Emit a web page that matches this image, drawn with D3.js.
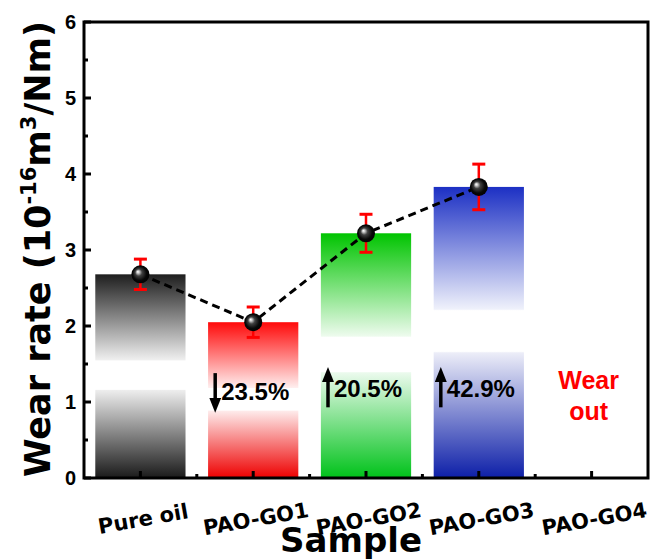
<!DOCTYPE html>
<html>
<head>
<meta charset="utf-8">
<script src="https://cdn.jsdelivr.net/npm/d3@7"></script>
<style>
  body { margin: 0; background: #fff; }
  svg { display: block; }
  text { font-family: "Liberation Sans", Arial, sans-serif; font-weight: bold; }
  text.dv { font-family: "DejaVu Sans", sans-serif; }
</style>
</head>
<body>
<script>
const categories = ["Pure oil", "PAO-GO1", "PAO-GO2", "PAO-GO3", "PAO-GO4"];
const wearRate   = [2.68, 2.05, 3.22, 3.83, null];
const wearError  = [0.20, 0.20, 0.25, 0.30, null];
const changeText = [null, "23.5%", "20.5%", "42.9%", null];
const changeDir  = [null, "down", "up", "up", null];
const topColors    = ["#1e1e1e", "#ff0a0a", "#00c400", "#1c30c4", null];
const bottomColors = ["#1a1a1a", "#ee0000", "#00c21a", "#0d1fa8", null];
const yTicks = [0, 1, 2, 3, 4, 5, 6];
const yMinorTicks = [0.5, 1.5, 2.5, 3.5, 4.5, 5.5];
const wornOutLabel = ["Wear", "out"];

const W = 656, H = 560;
const m = { left: 84, right: 8, top: 22, bottom: 82 };

const svg = d3.select("body").append("svg").attr("width", W).attr("height", H);
const defs = svg.append("defs");

const xs = d3.scaleBand().domain(categories).range([m.left, W - m.right]).padding(0);
const y = d3.scaleLinear().domain([0, 6]).range([H - m.bottom, m.top]);
const cx = c => xs(c) + xs.bandwidth() / 2;

// gradients
const mixWhite = (c, t) => d3.interpolateRgb(c, "#ffffff")(t);
categories.forEach((c, i) => {
  if (wearRate[i] == null) return;
  const g = defs.append("linearGradient").attr("id", "grad" + i)
    .attr("x1", 0).attr("y1", 0).attr("x2", 0).attr("y2", 1);
  const stops = [
    [0, topColors[i]],
    [0.42, mixWhite(topColors[i], 0.93)],
    [0.425, "#ffffff"],
    [0.565, "#ffffff"],
    [0.57, mixWhite(bottomColors[i], 0.92)],
    [1, bottomColors[i]]
  ];
  stops.forEach(s => g.append("stop").attr("offset", s[0]).attr("stop-color", s[1]));
});

const sphere = defs.append("radialGradient").attr("id", "sphere")
  .attr("cx", "50%").attr("cy", "50%").attr("r", "55%").attr("fx", "35%").attr("fy", "35%");
[[0, "#ffffff"], [0.12, "#d0d0d0"], [0.35, "#404040"], [0.7, "#080808"], [1, "#000000"]]
  .forEach(s => sphere.append("stop").attr("offset", s[0]).attr("stop-color", s[1]));

defs.append("marker").attr("id", "arrowHead")
  .attr("viewBox", "0 0 15 12").attr("refX", 2).attr("refY", 6)
  .attr("markerWidth", 15).attr("markerHeight", 12).attr("markerUnits", "userSpaceOnUse")
  .attr("orient", "auto")
  .append("path").attr("d", "M0,0 L15,6 L0,12 Z").attr("fill", "#000");

// bars
const bandW = xs.bandwidth() * 0.8;
svg.append("g").selectAll("rect")
  .data(categories.map((c, i) => ({ c, i, v: wearRate[i] })).filter(d => d.v != null))
  .join("rect")
  .attr("x", d => cx(d.c) - bandW / 2)
  .attr("width", bandW)
  .attr("y", d => y(d.v))
  .attr("height", d => y(0) - y(d.v))
  .attr("fill", d => `url(#grad${d.i})`);

// percentage annotations
const ann = svg.append("g");
categories.forEach((c, i) => {
  if (!changeText[i]) return;
  const ax = cx(c) - 38;
  const down = changeDir[i] === "down";
  const y0 = down ? y(1.38) : y(0.93);
  const y1 = down ? y(0.86) : y(1.46);
  ann.append("line").attr("x1", ax).attr("x2", ax).attr("y1", y0).attr("y2", y1 + (down ? -13 : 13))
    .attr("stroke", "#000").attr("stroke-width", 3.5)
    .attr("marker-end", "url(#arrowHead)");
  ann.append("text").attr("x", ax + 6).attr("y", y(down ? 1.03 : 1.07))
    .attr("font-size", 24).attr("fill", "#000").text(changeText[i]);
});

// worn-out label
categories.forEach((c, i) => {
  if (wearRate[i] != null) return;
  const t = svg.append("text").attr("text-anchor", "middle").attr("font-size", 25).attr("fill", "#ff0000");
  wornOutLabel.forEach((w, k) => {
    t.append("tspan").attr("x", cx(c) - 3).attr("y", y(k === 0 ? 1.17 : 0.76)).text(w);
  });
});

// dashed line
const pts = categories.map((c, i) => ({ c, v: wearRate[i], e: wearError[i] })).filter(d => d.v != null);
svg.append("path")
  .attr("d", d3.line().x(d => cx(d.c)).y(d => y(d.v))(pts))
  .attr("fill", "none").attr("stroke", "#000").attr("stroke-width", 3).attr("stroke-dasharray", "8,5");

// error bars
const eb = svg.append("g").attr("stroke", "#ff0000").attr("stroke-width", 2.5);
pts.forEach(d => {
  const px = cx(d.c);
  eb.append("line").attr("x1", px).attr("x2", px).attr("y1", y(d.v - d.e)).attr("y2", y(d.v + d.e));
  [d.v - d.e, d.v + d.e].forEach(v => {
    eb.append("line").attr("x1", px - 6.5).attr("x2", px + 6.5).attr("y1", y(v)).attr("y2", y(v)).attr("stroke-width", 3);
  });
});

// points
svg.append("g").selectAll("circle").data(pts).join("circle")
  .attr("cx", d => cx(d.c)).attr("cy", d => y(d.v)).attr("r", 9)
  .attr("fill", "url(#sphere)");

// frame & axes
const axG = svg.append("g");
axG.append("rect").attr("x", m.left).attr("y", m.top)
  .attr("width", W - m.right - m.left).attr("height", y(0) - m.top)
  .attr("fill", "none").attr("stroke", "#000").attr("stroke-width", 3);

yTicks.forEach(t => {
  axG.append("line").attr("x1", m.left).attr("x2", m.left + 7).attr("y1", y(t)).attr("y2", y(t))
    .attr("stroke", "#000").attr("stroke-width", 3);
});
yMinorTicks.forEach(t => {
  axG.append("line").attr("x1", m.left).attr("x2", m.left + 4).attr("y1", y(t)).attr("y2", y(t))
    .attr("stroke", "#000").attr("stroke-width", 3);
});
axG.selectAll("text.yt").data(yTicks).join("text").attr("class", "yt")
  .attr("x", m.left - 8).attr("y", d => y(d) + 7).attr("text-anchor", "end")
  .attr("font-size", 20).attr("fill", "#000").text(d => d);

categories.forEach(c => {
  axG.append("line").attr("x1", cx(c)).attr("x2", cx(c)).attr("y1", y(0)).attr("y2", y(0) - 7)
    .attr("stroke", "#000").attr("stroke-width", 3);
});
categories.slice(1).forEach(c => {
  axG.append("line").attr("x1", xs(c)).attr("x2", xs(c)).attr("y1", y(0)).attr("y2", y(0) - 4)
    .attr("stroke", "#000").attr("stroke-width", 3);
});
categories.forEach(c => {
  axG.append("text").attr("class", "dv")
    .attr("transform", `translate(${cx(c) + 4},${y(0) + 48}) rotate(-10)`)
    .attr("text-anchor", "middle").attr("font-size", 21).attr("fill", "#000").text(c);
});

// axis titles
svg.append("text").attr("class", "dv")
  .attr("transform", `translate(351,${H - 8})`)
  .attr("text-anchor", "middle").attr("font-size", 34).attr("fill", "#000").text("Sample");

const yt = svg.append("text").attr("class", "dv")
  .attr("transform", `translate(50,${(m.top + y(0)) / 2 - 1}) rotate(-90)`)
  .attr("text-anchor", "middle").attr("font-size", 35).attr("fill", "#000");
yt.append("tspan").text("Wear rate (10");
yt.append("tspan").attr("font-size", 21).attr("dy", -14).text("-16");
yt.append("tspan").attr("dy", 14).text("m");
yt.append("tspan").attr("font-size", 21).attr("dy", -14).text("3");
yt.append("tspan").attr("dy", 14).text("/Nm)");
</script>
</body>
</html>
